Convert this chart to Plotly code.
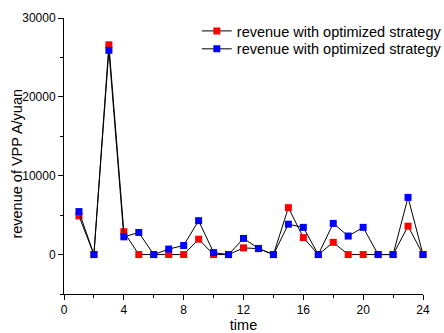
import plotly.graph_objects as go

hours = list(range(1, 25))
revenue_red = [4900, 0, 26600, 2900, 0, 0, 0, 0, 1950, 0, 0, 850,
               750, 0, 5950, 2150, 0, 1550, 0, 0, 0, 0, 3600, 0]
revenue_blue = [5450, 0, 25900, 2250, 2800, 0, 700, 1150, 4300, 250, 0, 2050,
                780, 0, 3850, 3450, 0, 3950, 2350, 3450, 0, 0, 7250, 0]
series_name = "revenue with optimized strategy"

FONT = "Liberation Sans, Arial"

fig = go.Figure()
for vals, col, leg in [(revenue_red, "#ff0000", "legend"), (revenue_blue, "#0000ff", "legend2")]:
    fig.add_trace(go.Scatter(
        x=hours, y=vals, mode="lines+markers", name=series_name,
        line=dict(color="black", width=1),
        marker=dict(symbol="square", size=7, color=col, line=dict(width=0)),
        cliponaxis=False, legend=leg, showlegend=True,
    ))

axis_common = dict(
    showgrid=False, zeroline=False, showline=True, linecolor="black", linewidth=1,
    ticks="outside", ticklen=5, tickwidth=1, tickcolor="black",
    tickfont=dict(family=FONT, size=12, color="black"),
    minor=dict(ticks="outside", ticklen=3, tickwidth=1, tickcolor="black"),
)

fig.update_xaxes(range=[0, 24], tickvals=[0, 4, 8, 12, 16, 20, 24],
                 minor_tickvals=[2, 6, 10, 14, 18, 22],
                 title=dict(text="time", standoff=4,
                            font=dict(family=FONT, size=14.5, color="black")),
                 **axis_common)
fig.update_yaxes(range=[-5000, 30000], tickvals=[0, 10000, 20000, 30000],
                 tickformat="d",
                 minor_tickvals=[-5000, 5000, 15000, 25000],
                 **axis_common)

# y-axis title placed as a rotated annotation
fig.add_annotation(text="revenue of VPP A/yuan", textangle=-90,
                   xref="paper", yref="paper", x=-0.132, y=0.471,
                   xanchor="center", yanchor="middle", showarrow=False,
                   font=dict(family=FONT, size=14.5, color="black"))

legend_style = dict(x=0.37, xanchor="left", yanchor="middle",
                    bgcolor="rgba(0,0,0,0)", borderwidth=0,
                    font=dict(family=FONT, size=14.5, color="black"),
                    itemwidth=30)

fig.update_layout(
    width=444, height=333,
    showlegend=True,
    margin=dict(l=64, r=21, t=18, b=39, autoexpand=False),
    plot_bgcolor="white", paper_bgcolor="white",
    font=dict(family=FONT, color="black"),
    legend=dict(y=0.953, **legend_style),
    legend2=dict(y=0.888, **legend_style),
)

fig.write_html("out.html")
